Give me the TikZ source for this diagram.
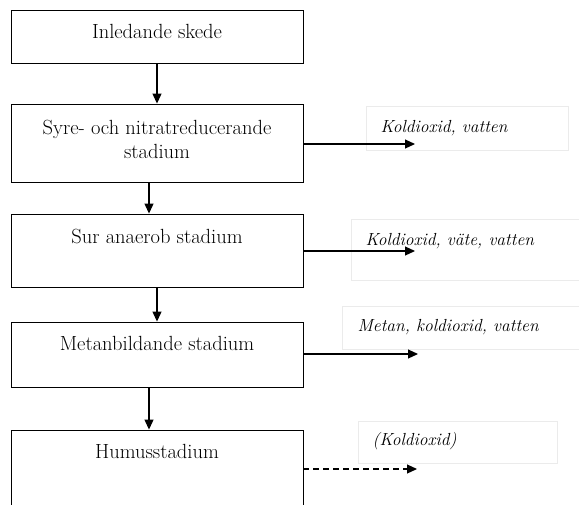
\documentclass[tikz,border=0pt]{standalone}
\usetikzlibrary{arrows.meta}
\begin{document}
\begin{tikzpicture}[x=1pt,y=-1pt,
  stage/.style={draw, line width=0.9pt, minimum width=292pt, inner sep=0pt, fill=white},
  stagetext/.style={font=\fontsize{20.5}{24}\selectfont, align=center},
  prod/.style={draw=black!8, line width=0.6pt, inner sep=0pt, anchor=north west},
  prodtext/.style={font=\fontsize{17.5}{20}\selectfont\itshape, anchor=west},
  flow/.style={line width=1.1pt, -{Triangle[length=10pt,width=9pt]}}
]
\useasboundingbox (0,0) rectangle (579,504);
% stage boxes
\node[stage, minimum height=53pt] (s1) at (157,36.5) {};
\node[stage, minimum height=78pt] (s2) at (157,143) {};
\node[stage, minimum height=73pt] (s3) at (157,250.5) {};
\node[stage, minimum height=65pt] (s4) at (157,354.5) {};
\node[stage, minimum height=80pt] (s5) at (157,470) {};
\node[stagetext] (t1) at (157,31) {Inledande skede};
\node[stagetext] (t2) at (157,139) {Syre- och nitratreducerande\\stadium};
\node[stagetext] (t3) at (157,236) {Sur anaerob stadium};
\node[stagetext] (t4) at (157,343) {Metanbildande stadium};
\node[stagetext] (t5) at (157,451) {Humusstadium};
% product boxes
\node[prod, minimum width=202pt, minimum height=44pt] (p2) at (366,106) {};
\node[prod, minimum width=240pt, minimum height=61pt] (p3) at (351,219) {};
\node[prod, minimum width=250pt, minimum height=43pt] (p4) at (342,306) {};
\node[prod, minimum width=199pt, minimum height=42pt] (p5) at (358,421) {};
\node[prodtext] (q2) at (377,128) {Koldioxid, vatten};
\node[prodtext] (q3) at (362,241) {Koldioxid, väte, vatten};
\node[prodtext] (q4) at (354,327) {Metan, koldioxid, vatten};
\node[prodtext] (q5) at (369,441) {(Koldioxid)};
% vertical arrows
\draw[flow] (s1.south) -- (s2.north);
\draw[flow] (s2.south -| 149,0) -- (s3.north -| 149,0);
\draw[flow] (s3.south) -- (s4.north);
\draw[flow] (s4.south -| 149,0) -- (s5.north -| 149,0);
% horizontal arrows
\coordinate (e2) at (415,144);
\coordinate (e3) at (415,251);
\coordinate (e4) at (418,354);
\coordinate (e5) at (417,469);
\draw[flow] (s2.east |- e2) -- (e2);
\draw[flow] (s3.east |- e3) -- (e3);
\draw[flow] (s4.east |- e4) -- (e4);
\draw[flow, dash pattern=on 6pt off 4pt] (s5.east |- e5) -- (e5);
\end{tikzpicture}
\end{document}
